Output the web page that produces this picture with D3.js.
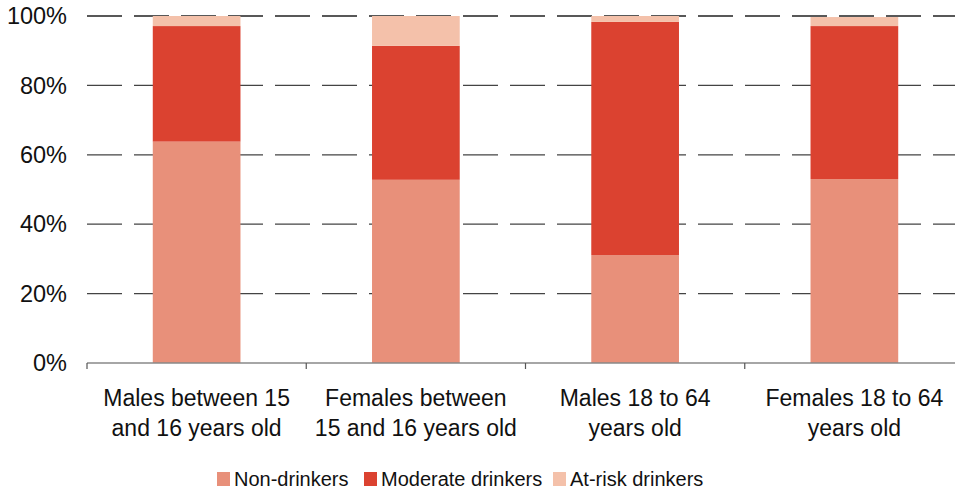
<!DOCTYPE html>
<html>
<head>
<meta charset="utf-8">
<script src="https://cdn.jsdelivr.net/npm/d3@7"></script>
<style>
  body { margin: 0; background: #fff; }
  text { font-family: "Liberation Sans", Arial, sans-serif; fill: #111; }
</style>
</head>
<body>
<svg id="chart" width="955" height="492"></svg>
<script>
const categories = [
  ["Males between 15", "and 16 years old"],
  ["Females between", "15 and 16 years old"],
  ["Males 18 to 64", "years old"],
  ["Females 18 to 64", "years old"],
];
const seriesNames = ["Non-drinkers", "Moderate drinkers", "At-risk drinkers"];
const nonDrinkers = [63.8, 52.8, 31.1, 53.0];
const moderateDrinkers = [33.3, 38.6, 67.2, 44.1];
const atRiskDrinkers = [2.9, 8.6, 1.7, 2.6];
const yTicks = [0, 20, 40, 60, 80, 100];
const colors = ["#e8907a", "#db4230", "#f4c1aa"];

const svg = d3.select("#chart");
const margin = { left: 87, top: 16, bottom: 129 };
const plotW = 877;
const plotH = 492 - margin.top - margin.bottom;

const x = d3.scaleBand()
  .domain(d3.range(categories.length))
  .range([margin.left, margin.left + plotW])
  .paddingInner(0.6)
  .paddingOuter(0.3);
const y = d3.scaleLinear().domain([0, 100]).range([margin.top + plotH, margin.top]);

const rows = categories.map((c, i) => ({
  i,
  s0: nonDrinkers[i],
  s1: moderateDrinkers[i],
  s2: atRiskDrinkers[i],
}));
const stacked = d3.stack().keys(["s0", "s1", "s2"])(rows);

// grid
svg.append("g")
  .selectAll("line")
  .data(yTicks.filter((t) => t > 0))
  .join("line")
  .attr("x1", margin.left)
  .attr("x2", margin.left + plotW)
  .attr("y1", (d) => y(d))
  .attr("y2", (d) => y(d))
  .attr("stroke", (d) => (d === 100 ? "#222" : "#444"))
  .attr("stroke-width", 1.3)
  .attr("stroke-dasharray", "35,12");

// bars
svg.append("g")
  .selectAll("g")
  .data(stacked)
  .join("g")
  .attr("fill", (d, k) => colors[k])
  .selectAll("rect")
  .data((d) => d)
  .join("rect")
  .attr("x", (d) => x(d.data.i))
  .attr("width", x.bandwidth())
  .attr("y", (d) => y(d[1]))
  .attr("height", (d) => y(d[0]) - y(d[1]));

// y axis labels
svg.append("g")
  .selectAll("text")
  .data(yTicks)
  .join("text")
  .attr("x", 67)
  .attr("y", (d) => y(d))
  .attr("dy", "0.35em")
  .attr("text-anchor", "end")
  .attr("font-size", 23.5)
  .text((d) => d + "%");

// x axis
const base = y(0);
svg.append("line")
  .attr("x1", margin.left)
  .attr("x2", margin.left + plotW)
  .attr("y1", base)
  .attr("y2", base)
  .attr("stroke", "#888")
  .attr("stroke-width", 1.5);
const step = plotW / categories.length;
svg.append("g")
  .selectAll("line")
  .data(d3.range(categories.length + 1))
  .join("line")
  .attr("x1", (d) => margin.left + d * step)
  .attr("x2", (d) => margin.left + d * step)
  .attr("y1", base)
  .attr("y2", base + 6)
  .attr("stroke", "#555")
  .attr("stroke-width", 1.2);

const xLabels = svg.append("g")
  .selectAll("text")
  .data(categories)
  .join("text")
  .attr("text-anchor", "middle")
  .attr("font-size", 23)
  .attr("x", (d, i) => x(i) + x.bandwidth() / 2)
  .attr("y", 406);
xLabels.selectAll("tspan")
  .data((d) => d)
  .join("tspan")
  .attr("x", function () { return this.parentNode.getAttribute("x"); })
  .attr("dy", (d, j) => (j === 0 ? 0 : 30))
  .text((d) => d);

// legend
const legendX = [217, 364, 553];
const legend = svg.append("g")
  .selectAll("g")
  .data(seriesNames)
  .join("g")
  .attr("transform", (d, i) => `translate(${legendX[i]},472)`);
legend.append("rect")
  .attr("width", 13)
  .attr("height", 14)
  .attr("fill", (d, i) => colors[i]);
legend.append("text")
  .attr("x", 17)
  .attr("y", 7)
  .attr("dy", "0.35em")
  .attr("font-size", 20)
  .text((d) => d);
</script>
</body>
</html>
